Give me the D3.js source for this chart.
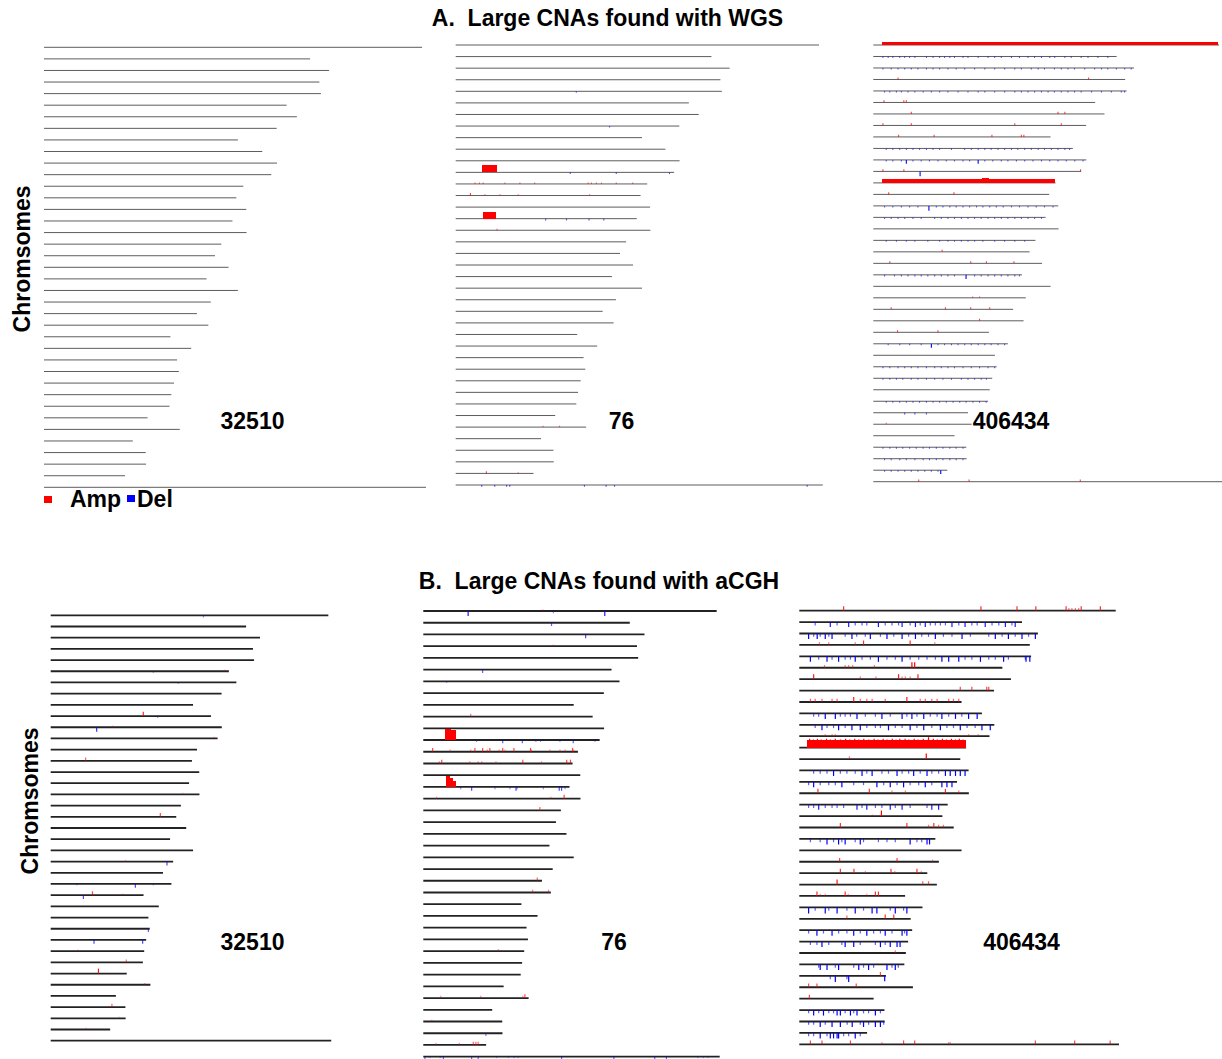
<!DOCTYPE html>
<html>
<head>
<meta charset="utf-8">
<script src="https://cdn.jsdelivr.net/npm/d3@7"></script>
<style>
  html, body { margin: 0; padding: 0; background: #fff; }
  svg { display: block; font-family: "Liberation Sans", Arial, Helvetica, sans-serif; }
  text { white-space: pre; }
</style>
</head>
<body>
<svg id="chart" width="1222" height="1059"></svg>
<script>
// Canine chromosomes (CanFam2 assembly) and their lengths in Mb
const chromosomes = ["1","2","3","4","5","6","7","8","9","10","11","12","13","14","15","16","17","18","19","20",
  "21","22","23","24","25","26","27","28","29","30","31","32","33","34","35","36","37","38","X"];
const chromLengthMb = [125.6, 88.4, 94.7, 91.5, 92.0, 80.6, 84.0, 77.3, 64.4, 72.5, 77.4, 75.5, 66.2, 63.9,
  67.2, 62.6, 67.3, 58.9, 56.8, 61.3, 54.0, 64.4, 55.4, 50.8, 54.6, 42.0, 48.9, 44.2, 44.8, 43.2, 42.3, 41.7,
  34.4, 45.1, 29.5, 33.8, 33.9, 26.9, 126.9];

const samples = ["32510", "76", "406434"];
const platformTitles = ["A.  Large CNAs found with WGS", "B.  Large CNAs found with aCGH"];

// Segmental calls: [chromosome, start Mb, end Mb, level]  (level > 0 = amplification)
// Focal calls: [chromosome, level, [positions Mb]]  (level < 0 = deletion)

// ---- WGS ----
const wgs32510Segments = [];
const wgs32510Points = [];

const wgs76Segments = [
  ["12", 9.0, 14.3, 1.0],
  ["16", 9.3, 14.1, 1.0]
];
const wgs76Points = [
  ["5", -0.2, [41.7]],
  ["8", -0.2, [53.2]],
  ["12", -0.25, [39.6, 55.5, 73.9]],
  ["13", 0.2, [6.7, 8.2, 9.5, 17, 22.2, 27.3, 45.8, 46.9, 48.6, 50.4, 55.5, 61.2]],
  ["14", 0.35, [5.1]],
  ["14", 0.2, [10.1, 15.3, 21.6, 46.3]],
  ["16", -0.25, [31.1, 38.3, 46.1, 51.2]],
  ["17", 0.2, [14.3]],
  ["34", 0.2, [30.2, 35.9]],
  ["38", 0.3, [10.6]],
  ["38", 0.15, [21.6]],
  ["X", -0.25, [9, 13.5, 17.6, 18.7, 44.5, 52, 54.9, 121.5]]
];

const wgs406434Segments = [
  ["1", 3.2, 125.4, 0.4],
  ["13", 3.2, 66.1, 0.6],
  ["13", 39.5, 42.0, 0.75]
];
const wgs406434Points = [
  ["2", -0.22, [3.5, 5.4, 7.1, 9.6, 11.4, 13.2, 15.1, 19.3, 21.7, 24.1, 25.9, 27.8, 29.5, 32.6, 34.4, 38.1, 41.7,
    44.1, 46.5, 50.2, 53.1, 56.2, 58.6, 61.1, 64.1, 65.9, 69.6, 71.9, 75.5, 78, 81.6, 85.2]],
  ["3", -0.22, [3.5, 6.5, 9, 11.4, 13.8, 16.2, 19.3, 21.7, 24.1, 27.1, 30.1, 33.2, 36.8, 40.5, 44.1, 47.7, 51.4,
    53.8, 57.4, 59.9, 62.2, 65.8, 68.3, 70.7, 73.1, 76.8, 80.4, 82.9, 85.2, 88.3, 91.3, 93.7]],
  ["4", 0.3, [9, 78.2]],
  ["5", -0.22, [4.1, 6, 8.4, 10.2, 12.6, 15.1, 18.1, 21.1, 24.1, 27.1, 30.8, 34.4, 38.1, 40.5, 44.1, 47.7, 51.4,
    53.8, 56.2, 58.6, 61.1, 63.5, 65.8, 68.3, 70.7, 73.1, 75.5, 79.3, 82.9, 86.5, 90.1, 91.3]],
  ["6", 0.3, [3.9, 11.1, 12]],
  ["7", 0.3, [13.8, 67.1, 69.6]],
  ["8", 0.3, [3.5, 13.8, 51.4, 68.3]],
  ["9", 0.3, [9.2, 22.1, 43.1, 53.8, 54.7]],
  ["10", -0.22, [4.7, 7.1, 9.6, 12, 14.4, 16.8, 19.3, 21.7, 24.1, 28.4, 33.2, 35.6, 38.1, 40.5, 42.8, 45.3, 47.7,
    50.2, 52.5, 55, 57.4, 59.9, 62.2, 64.7, 67.1, 69.6, 71.3]],
  ["11", -0.22, [4.7, 7.1, 10.2, 14.4, 17.4, 20.4, 23.5, 26.5, 29.5, 32.6, 35, 40.5, 43.4, 46.5, 48.9, 52, 55, 58,
    61.1, 64.1, 67.1, 70.1, 73.2, 76.2]],
  ["11", -0.55, [12, 38.1]],
  ["12", 0.3, [3.5, 11.1, 75.3]],
  ["12", -0.7, [17]],
  ["14", 0.3, [5.6, 29.3]],
  ["15", -0.22, [4.1, 7.1, 10.2, 13.2, 16.2, 22.9, 25.3, 27.8, 30.1, 32.6, 35, 37.5, 39.8, 42.3, 44.7, 47.2, 50.2,
    53.1, 56.2, 59.2, 62.2, 65.3]],
  ["15", -0.7, [20.2]],
  ["16", -0.22, [4.1, 6.5, 9, 11.4, 14.4, 17.4, 22.3, 24.7, 27.1, 29.5, 32, 34.4, 36.8, 39.2, 41.7, 44.1, 46.5,
    48.9, 51.4, 53.8, 56.2, 58.6, 61.1]],
  ["18", -0.2, [4.7, 8.4, 12, 15.1, 19.8, 24.1, 27.1, 29.5, 32, 34.4, 36.8, 39.8, 44.1, 47.7, 51.4, 55]],
  ["19", 0.3, [25]],
  ["20", 0.3, [6, 35.4, 41.1, 51.1]],
  ["21", -0.22, [4.1, 7.7, 10.2, 12.6, 15.1, 17.4, 19.8, 22.3, 24.7, 27.1, 29.5, 36.8, 39.2, 41.7, 44.1, 46.5,
    48.9, 51.4, 53.1]],
  ["21", -0.6, [33.7]],
  ["23", 0.2, [36.1, 38.6]],
  ["24", 0.3, [6.5, 26.2, 35.4, 42.3]],
  ["25", 0.3, [38.6]],
  ["26", 0.3, [8.8, 23.5]],
  ["27", -0.22, [5.4, 9.6, 13.2, 17.4, 23.5, 25.9, 28.4, 30.8, 33.2, 35.6, 38.1, 40.5, 42.8, 45.3, 47.7]],
  ["27", -0.55, [21.1]],
  ["29", -0.22, [3.5, 6, 9, 11.4, 13.8, 16.2, 19.3, 22.3, 24.7, 27.1, 29.5, 32.6, 35.6, 38.6, 41.7, 44.1]],
  ["30", -0.22, [3.5, 6, 8.4, 10.7, 13.8, 16.2, 19.3, 22.3, 25.3, 28.4, 32, 34.4, 36.8, 39.2, 41.1]],
  ["32", -0.22, [4.7, 7.1, 9.6, 12, 14.4, 16.8, 19.3, 21.7, 24.1, 26.5, 29, 31.4, 33.7, 36.2, 38.6, 41]],
  ["33", -0.25, [11.4, 15.1, 19.3]],
  ["34", 0.2, [4.7]],
  ["36", -0.22, [3.5, 6, 8.4, 10.7, 13.2, 15.6, 18.1, 20.4, 22.9, 25.3, 27.8, 30.1, 32.6]],
  ["37", -0.22, [4.1, 6.5, 9.6, 12, 15.1, 18.1, 20.4, 22.9, 25.3, 27.8, 30.1, 32.6]],
  ["38", -0.22, [4.1, 6.5, 9, 11.4, 13.8, 16.2, 18.7, 21.1, 23.5]],
  ["38", -0.55, [24.5]],
  ["X", 0.3, [16.5, 34.8, 75.2]]
];

// ---- aCGH ----
const acgh32510Segments = [];
const acgh32510Points = [
  ["1", -0.2, [69.1]],
  ["6", 0.15, [78.6]], ["6", -0.15, [46.4]],
  ["7", -0.15, [57.7]],
  ["10", 0.4, [41.9]], ["10", -0.18, [48.4]],
  ["11", -0.4, [20.8]], ["11", 0.15, [28]],
  ["12", 0.15, [74]],
  ["14", 0.3, [15.8]],
  ["17", 0.15, [59.8]],
  ["19", 0.35, [49.6]],
  ["23", 0.15, [33.8]], ["23", -0.35, [52.6]],
  ["25", -0.15, [11.8, 46.4]], ["25", -0.35, [38.3]],
  ["26", 0.35, [18.9]], ["26", -0.35, [14.8]], ["26", 0.15, [32.5]],
  ["29", -0.3, [44.2]],
  ["30", -0.35, [19.6, 41.6]],
  ["31", 0.15, [12.3]],
  ["32", 0.25, [34.2]],
  ["33", 0.45, [21.6]],
  ["34", 0.15, [42.5]],
  ["36", 0.3, [27.7]],
  ["37", 0.15, [30.9]],
  ["38", 0.15, [16]]
];

const acgh76Segments = [
  ["12", 9.3, 11.8, 1.0], ["12", 11.8, 12.9, 0.9], ["12", 12.9, 14.2, 0.95],
  ["16", 9.7, 11.6, 1.0], ["16", 11.6, 12.8, 0.8], ["16", 12.8, 14.2, 0.55]
];
const acgh76Points = [
  ["1", -0.45, [19.2, 77.7]], ["1", -0.2, [55.7]], ["1", 0.15, [51.2]],
  ["2", -0.3, [54.9]],
  ["3", -0.35, [69.5]],
  ["4", 0.15, [55.7]],
  ["6", -0.3, [25.4]],
  ["7", -0.15, [10]],
  ["10", 0.25, [20.3]],
  ["12", -0.3, [34, 42.4, 64.2]], ["12", -0.18, [22.8, 48.2, 50.2, 58.5, 73.5]],
  ["13", 0.35, [4, 22.1, 25.4, 28.5, 34, 38.8, 45.9, 63.9]],
  ["13", 0.2, [11.5, 20.3, 27.4, 32.5, 35, 46.3, 54.2, 58.5, 60.7, 64.4]],
  ["14", 0.35, [7.9, 42.6, 61.4, 63]], ["14", 0.2, [6.9, 19.9, 23.5, 25, 31.1, 50.6]],
  ["16", -0.35, [20.7, 39.7, 58.2, 59.2]], ["16", -0.2, [16, 30.7, 37.1, 40.2, 51.4, 60.7]],
  ["17", 0.35, [60.3]], ["17", 0.18, [5.7, 54.6]],
  ["18", 0.3, [49.9]],
  ["24", 0.3, [48.8]],
  ["25", 0.25, [46.8, 53.6]],
  ["30", 0.2, [32.1]],
  ["34", 0.35, [43.5]], ["34", 0.2, [7.5, 24.6, 42.6]],
  ["36", 0.15, [3.6]],
  ["37", -0.25, [26.8]],
  ["38", 0.3, [21.4, 22.5, 23.5]], ["38", 0.2, [5.4, 15.4]],
  ["X", -0.3, [0.7, 8.6, 20.7, 23.5, 59.2, 81.6, 99.1, 104.1]],
  ["X", -0.15, [2.9, 7.2, 31.4, 36.4, 38.9, 40.6, 117.6, 119.9, 121.9]]
];

const acgh406434Segments = [
  ["13", 3.1, 66.1, 0.66]
];
const acgh406434Points = [
  ["1", 0.4, [17.6, 72.1, 86.4, 93.9, 105.9, 111.9, 119.5]], ["1", 0.25, [107, 108.2, 109.6, 110.9]],
  ["2", -0.45, [12.3, 19.6, 31.4, 40.8, 46.1, 50, 60.6, 65.8, 73.8, 81.8, 85.7]],
  ["2", -0.3, [6.3, 15, 22.2, 24.9, 26.8, 34.1, 36.8, 39.4, 44, 48, 52, 54, 56, 58, 63.3, 68.5, 70.6, 76.5, 79.2, 84.4]],
  ["3", -0.5, [3.7, 7.1, 10.3, 13, 20.9, 28.2, 34.8, 40.8, 46.1, 54, 64.6, 77.8, 83, 88.4, 93.7]],
  ["3", -0.3, [5.7, 8.3, 11.7, 18.2, 22.8, 26.2, 32.2, 37.5, 43.4, 48.6, 51.3, 57.2, 60.6, 67.9, 75.2, 80.5, 85.7, 91]],
  ["4", 0.4, [25.5, 44]], ["4", 0.25, [8, 11.7, 22.2, 53.8]],
  ["5", -0.5, [4.4, 11, 15.6, 22.2, 31.4, 40.8, 56.6, 59.3, 63.3, 71.9, 81.1, 90, 91.5]],
  ["5", -0.3, [7.7, 13, 18.2, 20.3, 24.9, 28.2, 34.8, 38.1, 44, 47.4, 50.7, 54, 65.8, 68.5, 75.2, 77.8, 83, 89.7]],
  ["6", 0.5, [44.7, 45.8]], ["6", 0.25, [10, 18.2, 19.6, 21.2, 29.8]],
  ["7", 0.45, [5.7, 39.4, 47.1]], ["7", 0.25, [24.2, 30.4, 40.8, 42.1, 44]],
  ["8", 0.35, [63.9, 68.5, 74.4, 75.2]],
  ["9", 0.45, [21.6, 42.7]],
  ["9", 0.3, [4.4, 6.3, 9, 13, 15, 24.2, 26.8, 28.9, 34.1, 48, 50, 52.6, 54.7, 59.3, 61.2, 63.3]],
  ["10", -0.5, [10.3, 14.3, 22.9, 32.8, 40.8, 44.7, 49.4, 56.6, 62, 67.2, 70.6]],
  ["10", -0.3, [5.7, 7.7, 16.3, 18.2, 20.3, 26.2, 30.2, 36.1, 42.7, 46.7, 52, 54.7, 59.3, 64.5]],
  ["11", -0.5, [9, 15.6, 20.9, 24.2, 35.4, 44, 49.4, 56, 63.9, 72.5, 75.8]],
  ["11", -0.3, [6.3, 11, 13.6, 18.2, 26.8, 30.2, 32.2, 38.1, 40.8, 46.7, 52.6, 58.6, 61.2, 66.6, 69.8]],
  ["12", 0.2, [10.3, 13, 14.3, 67.2, 71]],
  ["13", 0.8, [4.1, 7.2, 10.8, 14.3, 18.4, 22, 25.6, 29.7, 33.3, 36.9, 39.9, 42, 45.6, 49.2, 53.2, 56.8, 60.4, 63.5]],
  ["13", 0.74, [5.6, 8.7, 12.3, 16.4, 20, 23.6, 27.6, 31.2, 34.8, 38.4, 43.5, 47.1, 51.2, 54.8, 58.4, 62, 65]],
  ["13", 0.95, [51.3]],
  ["14", 0.5, [50.4]], ["14", 0.25, [19.9]],
  ["15", -0.5, [13.6, 24.9, 28.9, 38.8, 45.4, 50.7, 58, 59.9, 62, 63.9, 65.8]],
  ["15", -0.3, [5.7, 8.3, 11, 16.3, 18.9, 22.2, 26.8, 32.8, 35.4, 40.8, 43.4, 48, 52.6, 55.3]],
  ["16", -0.5, [5.7, 16.9, 30.8, 36.1, 41.4, 50, 56.6, 58.6, 60.6]],
  ["16", -0.3, [3.7, 8.3, 11.7, 14.3, 21.6, 25.5, 33.5, 38.8, 44, 47.4, 52.6]],
  ["17", 0.4, [7.4, 27.8, 58]], ["17", 0.25, [36.8, 42.1, 63.3]],
  ["18", -0.45, [7.7, 22.9, 26.8, 36.1, 40.8, 52.6, 55.3]],
  ["18", -0.3, [3.7, 5.7, 10.3, 13, 15, 17.6, 24.9, 30.2, 32.8, 38.1, 44, 50.7]],
  ["19", 0.5, [32.6]], ["19", 0.15, [29.1]],
  ["20", 0.4, [16.3, 42.7, 53.4]], ["20", 0.25, [51.3, 55.3, 57.2]],
  ["21", -0.5, [11, 15.6, 18.2, 24.2, 44, 50.7, 51.7]],
  ["21", -0.3, [4.4, 8.3, 13.6, 16.9, 22.2, 25.5, 31.4, 34.8, 38.1, 46.7, 48.6]],
  ["23", 0.35, [16, 38.8]], ["23", 0.2, [52.9]],
  ["24", 0.4, [16.3, 21.7, 36.4, 46.7]], ["24", 0.2, [26.2, 37.9, 48.4]],
  ["25", 0.45, [15]], ["25", 0.3, [49, 51.3]],
  ["26", 0.4, [7, 18.2, 30.2, 31.4]], ["26", 0.2, [8.3, 10.3, 19.4, 26.8]],
  ["27", -0.55, [3.7, 10.3, 15, 22.2, 28.9, 30.8, 38.1, 42.7]],
  ["27", -0.3, [6.3, 11.7, 18.9, 25.5, 36.1, 41.4]],
  ["28", 0.3, [18.9]], ["28", 0.4, [34.1, 37.5]],
  ["29", -0.5, [7, 13, 21.6, 26.8, 34.1, 40.8, 42.7]],
  ["29", -0.3, [3.7, 9.6, 15.6, 18.9, 24.2, 29.5, 32.2, 36.8, 41.8]],
  ["30", -0.5, [9, 18.2, 21.6, 32.2, 36.1, 38.8, 40]],
  ["30", -0.3, [4.4, 7, 11.7, 16.9, 24.2, 30.2, 34.1]],
  ["31", 0.25, [38.1]],
  ["32", -0.5, [8.3, 11, 15.6, 23.6, 27.5, 34.8, 38.1]],
  ["32", -0.3, [7.7, 14.3, 21.6, 25.5, 29.5, 36.8, 39.3]],
  ["33", -0.55, [14.3, 19.6]], ["33", -0.5, [33.9]], ["33", -0.3, [12.3, 18.9]], ["33", 0.35, [32.2]],
  ["34", 0.35, [3.7, 7, 22.6]],
  ["35", 0.35, [4]],
  ["36", -0.5, [5.7, 9.6, 15, 16.3, 20.3, 22.9, 30.2]],
  ["36", -0.3, [3.7, 7.7, 11.7, 13.6, 18.2, 21.6, 25.5, 27.5, 32.2]],
  ["37", -0.5, [8.3, 13, 16.3, 21, 25.5, 30.2, 32.2]],
  ["37", -0.3, [3.7, 5.7, 10.3, 19, 24.2, 27.5, 33.5]],
  ["38", -0.5, [8.3, 12.3, 13.6, 15, 15.6, 22.2]],
  ["38", -0.3, [3.7, 5.7, 11, 17.6, 19.6, 24.2]],
  ["X", 0.35, [4.4, 9, 20.3, 41.4, 45.8, 93.7, 109.3, 123.4]],
  ["X", 0.2, [32.8, 59.3, 59.9]]
];

// ---- Layout ----
const AMP = "#ff0000", DEL = "#0000ff";

const platforms = [
  {
    title: platformTitles[0], titlePos: [607.5, 26], axisLabelPos: [30, 259],
    heightPx: 7, lineWidth: 0.8, lineColor: "#333", tickWidth: 1.1, opacity: [0.55, 1],
    panels: [
      { sample: samples[0], segments: wgs32510Segments, points: wgs32510Points, x: [44, 426], y: [47.3, 487.3], label: [252.5, 428.5] },
      { sample: samples[1], segments: wgs76Segments, points: wgs76Points, x: [455.7, 822.8], y: [45, 485], label: [621.5, 428.5] },
      { sample: samples[2], segments: wgs406434Segments, points: wgs406434Points, x: [873.3, 1222.6], y: [45, 481.7], label: [1011, 428.5] }
    ]
  },
  {
    title: platformTitles[1], titlePos: [599, 589], axisLabelPos: [38, 801],
    heightPx: 11, lineWidth: 1.8, lineColor: "#222", tickWidth: 1.2, opacity: [0.35, 1],
    panels: [
      { sample: samples[0], segments: acgh32510Segments, points: acgh32510Points, x: [50.7, 331.2], y: [615.3, 1040.7], label: [252.5, 949.5] },
      { sample: samples[1], segments: acgh76Segments, points: acgh76Points, x: [423.3, 719.7], y: [611, 1056.7], label: [614, 949.5] },
      { sample: samples[2], segments: acgh406434Segments, points: acgh406434Points, x: [799.3, 1119], y: [610.7, 1044.3], label: [1021.5, 949.5] }
    ]
  }
];

const svg = d3.select("#chart");
const maxLen = d3.max(chromLengthMb);
const lengthOf = new Map(chromosomes.map((c, i) => [c, chromLengthMb[i]]));

platforms.forEach(pf => {
  const h = d3.scaleLinear().domain([0, 1]).range([0, pf.heightPx]);
  const op = d3.scaleLinear().domain([0.15, 0.5]).range(pf.opacity).clamp(true);

  svg.append("text")
    .attr("x", pf.titlePos[0]).attr("y", pf.titlePos[1])
    .attr("text-anchor", "middle")
    .style("font-size", "23px").style("font-weight", "bold")
    .text(pf.title);

  svg.append("text")
    .attr("transform", `translate(${pf.axisLabelPos[0]},${pf.axisLabelPos[1]}) rotate(-90)`)
    .attr("text-anchor", "middle")
    .style("font-size", "23px").style("font-weight", "bold")
    .text("Chromsomes");

  pf.panels.forEach(p => {
    const x = d3.scaleLinear().domain([0, maxLen]).range(p.x);
    const y = d3.scalePoint().domain(chromosomes).range(p.y);
    const g = svg.append("g");

    // chromosome tracks
    g.selectAll("line.chrom")
      .data(chromosomes)
      .join("line")
      .attr("class", "chrom")
      .attr("x1", x(0))
      .attr("x2", c => x(lengthOf.get(c)))
      .attr("y1", c => y(c)).attr("y2", c => y(c))
      .attr("stroke", pf.lineColor)
      .attr("stroke-width", pf.lineWidth);

    // broad copy-number segments
    g.selectAll("rect.seg")
      .data(p.segments)
      .join("rect")
      .attr("class", "seg")
      .attr("x", d => x(d[1]))
      .attr("width", d => x(d[2]) - x(d[1]))
      .attr("y", d => d[3] > 0 ? y(d[0]) - h(Math.abs(d[3])) : y(d[0]))
      .attr("height", d => h(Math.abs(d[3])))
      .attr("fill", d => d[3] > 0 ? AMP : DEL)
      .attr("shape-rendering", "crispEdges");

    // focal calls
    const ticks = p.points.flatMap(([chr, level, positions]) =>
      positions.map(pos => ({ chr, level, pos })));
    g.selectAll("line.call")
      .data(ticks)
      .join("line")
      .attr("class", "call")
      .attr("x1", d => x(d.pos)).attr("x2", d => x(d.pos))
      .attr("y1", d => y(d.chr))
      .attr("y2", d => d.level > 0 ? y(d.chr) - h(d.level) : y(d.chr) + h(-d.level))
      .attr("stroke", d => d.level > 0 ? AMP : DEL)
      .attr("stroke-opacity", d => op(Math.abs(d.level)))
      .attr("stroke-width", pf.tickWidth);

    // sample name on a white backing
    const lbl = g.append("text")
      .attr("x", p.label[0]).attr("y", p.label[1])
      .attr("text-anchor", "middle")
      .style("font-size", "23px").style("font-weight", "bold")
      .text(p.sample);
    const bb = lbl.node().getBBox();
    g.insert("rect", "text")
      .attr("x", bb.x - 1).attr("y", bb.y + 2)
      .attr("width", bb.width + 2).attr("height", bb.height - 4)
      .attr("fill", "#fff");
  });
});

// legend
const legend = svg.append("g");
legend.append("rect").attr("x", 44).attr("y", 496).attr("width", 8).attr("height", 7).attr("fill", AMP);
legend.append("text").attr("x", 70).attr("y", 506.5)
  .style("font-size", "23px").style("font-weight", "bold").text("Amp");
legend.append("rect").attr("x", 127).attr("y", 495).attr("width", 8).attr("height", 7).attr("fill", DEL);
legend.append("text").attr("x", 137).attr("y", 506.5)
  .style("font-size", "23px").style("font-weight", "bold").text("Del");
</script>
</body>
</html>
